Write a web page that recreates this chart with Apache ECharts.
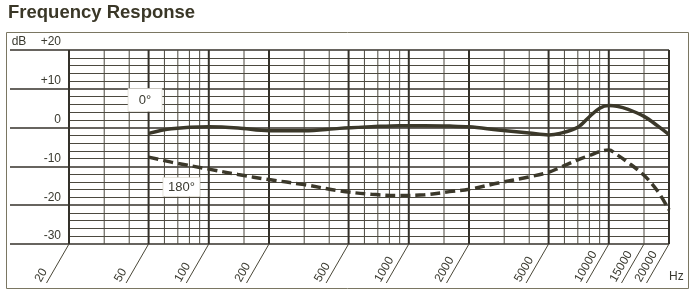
<!DOCTYPE html>
<html>
<head>
<meta charset="utf-8">
<script src="https://cdn.jsdelivr.net/npm/echarts@6/dist/echarts.min.js"></script>
<style>
html,body{margin:0;padding:0;background:#fff;}
#c{width:700px;height:297px;}
</style>
</head>
<body>
<div id="c"></div>
<script>
// ---- data ----
const freqs     = [50, 65, 100, 140, 200, 300, 450, 650, 900, 1200, 1600, 2000, 2800, 4000, 5000, 5700, 7000, 8000, 9000, 10000, 11000, 12500, 15000, 17500, 20000];
const resp0     = [-1.5, -0.3, 0.2, -0.1, -0.8, -0.8, -0.2, 0.2, 0.5, 0.5, 0.4, 0.2, -0.6, -1.4, -1.9, -1.5, 0.1, 2.8, 5.0, 5.7, 5.5, 4.7, 2.9, 0.5, -1.8];
const resp180   = [-7.6, -8.9, -10.7, -12.1, -13.4, -14.7, -16.3, -17.2, -17.5, -17.3, -16.5, -15.9, -14.3, -12.7, -11.5, -10.3, -8.3, -7.2, -6.2, -5.8, -7.0, -9.0, -12.3, -16.3, -21.2];
const xLabels   = [20, 50, 100, 200, 500, 1000, 2000, 5000, 10000, 15000, 20000];
const xMajorGrid = [20, 50, 100, 200, 500, 1000, 2000, 5000, 10000, 20000];
const xMinorGrid = [30, 40, 60, 70, 80, 90, 150, 300, 400, 600, 700, 800, 900, 1500, 3000, 4000, 6000, 7000, 8000, 9000, 15000];
const yTicks    = [-30, -20, -10, 0, 10, 20];
const yLabels   = ['-30', '-20', '-10', '0', '+10', '+20'];
const seriesNames = ['0°', '180°'];

const FONT = '"Liberation Sans", Arial, Helvetica, sans-serif';
const TXT = '#3a3a30';
const MAJOR = '#34312a';
const MINOR = '#4c493f';
const CURVE = '#3b382a';
const yMin = yTicks[0], yMax = yTicks[yTicks.length - 1];

const chart = echarts.init(document.getElementById('c'), null, {renderer: 'canvas'});

const option = {
  animation: false,
  backgroundColor: '#ffffff',
  textStyle: {fontFamily: FONT},
  title: {
    text: 'Frequency Response', left: 8, top: 3, padding: 0,
    textStyle: {fontFamily: FONT, fontSize: 18.5, fontWeight: 'bold', color: '#3a3727'}
  },
  graphic: [{
    type: 'rect', silent: true, z: -10,
    shape: {x: 6.5, y: 32.5, width: 682, height: 256},
    style: {fill: 'none', stroke: '#7a7662', lineWidth: 1}
  }],
  grid: [
    {left: 69, right: 31, top: 50, bottom: 53},
    {left: 10, width: 59, top: 50, bottom: 53}
  ],
  xAxis: [
    {
      type: 'log', logBase: 10, min: 20, max: 20000, gridIndex: 0, position: 'bottom',
      splitLine: {show: false}, axisTick: {show: false}, axisLine: {show: false, onZero: false},
      minorTick: {show: false}, minorSplitLine: {show: false},
      name: 'Hz', nameLocation: 'end', nameGap: 0,
      nameTextStyle: {fontFamily: FONT, fontSize: 12, color: TXT, verticalAlign: 'top', align: 'left', padding: [27, 0, 0, 0]},
      axisLabel: {
        customValues: xLabels,
        rotate: 60, margin: -5, align: 'right', verticalAlign: 'bottom',
        color: TXT, fontFamily: FONT, fontSize: 12,
        formatter: function (v) {
          let best = xLabels[0];
          xLabels.forEach(function (l) { if (Math.abs(Math.log(l) - Math.log(v)) < Math.abs(Math.log(best) - Math.log(v))) best = l; });
          return '{a|' + best + '}';
        },
        rich: {a: {width: 52, align: 'left', fontFamily: FONT, fontSize: 12, color: TXT}}
      }
    },
    {type: 'value', gridIndex: 1, show: false, min: 0, max: 1}
  ],
  yAxis: [
    {
      type: 'value', gridIndex: 0, min: yMin, max: yMax, interval: 10,
      axisLabel: {show: false}, axisLine: {show: false}, axisTick: {show: false},
      splitLine: {show: true, lineStyle: {color: MAJOR, width: 1.7}},
      minorTick: {show: false, splitNumber: 5},
      minorSplitLine: {show: true, lineStyle: {color: MINOR, width: 1}}
    },
    {
      type: 'value', gridIndex: 1, min: yMin, max: yMax, interval: 10, position: 'right',
      axisLine: {show: false}, axisTick: {show: false},
      splitLine: {show: true, lineStyle: {color: MAJOR, width: 1.7}},
      axisLabel: {
        inside: true, margin: 8, verticalAlign: 'bottom', padding: [0, 0, 2, 0],
        color: TXT, fontFamily: FONT, fontSize: 12,
        formatter: function (v) {
          const i = yTicks.indexOf(Math.round(v));
          const t = i >= 0 ? yLabels[i] : '';
          return Math.round(v) === yMax ? '{u|dB}' + t : t;
        },
        rich: {u: {width: 29, align: 'left', fontFamily: FONT, fontSize: 12, color: TXT}}
      }
    }
  ],
  series: [
    {
      // vertical grid lines
      type: 'custom', xAxisIndex: 0, yAxisIndex: 0, z: 1, silent: true,
      data: xMajorGrid.map(function (f) { return [f, 1]; }).concat(xMinorGrid.map(function (f) { return [f, 0]; })),
      renderItem: function (params, api) {
        const f = api.value(0), major = api.value(1) === 1;
        const p1 = api.coord([f, yMax]), p2 = api.coord([f, yMin]);
        return {type: 'line', shape: {x1: p1[0], y1: p1[1], x2: p2[0], y2: p2[1]},
          style: {stroke: major ? MAJOR : MINOR, lineWidth: major ? 2 : 1}};
      }
    },
    {
      // slanted tick strokes under the labels
      type: 'custom', xAxisIndex: 0, yAxisIndex: 0, z: 1, silent: true, clip: false,
      data: xLabels.map(function (f) { return [f, yMin]; }),
      renderItem: function (params, api) {
        const p = api.coord([api.value(0), api.value(1)]);
        return {type: 'line', shape: {x1: p[0], y1: p[1], x2: p[0] - 22.5, y2: p[1] + 39},
          style: {stroke: '#4a4738', lineWidth: 1}};
      }
    },
    {
      name: seriesNames[0], type: 'line', xAxisIndex: 0, yAxisIndex: 0, z: 3,
      data: freqs.map(function (f, i) { return [f, resp0[i]]; }),
      smooth: 0.35, symbol: 'none', silent: true,
      lineStyle: {color: CURVE, width: 3.5},
      markPoint: {
        z: 10, silent: true, symbol: 'rect', symbolSize: [34, 23],
        itemStyle: {color: '#ffffff', borderColor: '#d8d4c8', borderWidth: 0.6},
        label: {show: true, position: 'inside', formatter: seriesNames[0], color: TXT, fontFamily: FONT, fontSize: 13},
        data: [{coord: [48, 7.1]}]
      }
    },
    {
      name: seriesNames[1], type: 'line', xAxisIndex: 0, yAxisIndex: 0, z: 3,
      data: freqs.map(function (f, i) { return [f, resp180[i]]; }),
      smooth: 0.35, symbol: 'none', silent: true,
      lineStyle: {color: CURVE, width: 3.5, type: [10, 5]},
      markPoint: {
        z: 10, silent: true, symbol: 'rect', symbolSize: [37, 19],
        itemStyle: {color: '#ffffff', borderColor: '#d8d4c8', borderWidth: 0.6},
        label: {show: true, position: 'inside', formatter: seriesNames[1], color: TXT, fontFamily: FONT, fontSize: 13},
        data: [{coord: [73, -15.3]}]
      }
    }
  ]
};
chart.setOption(option);
</script>
</body>
</html>
